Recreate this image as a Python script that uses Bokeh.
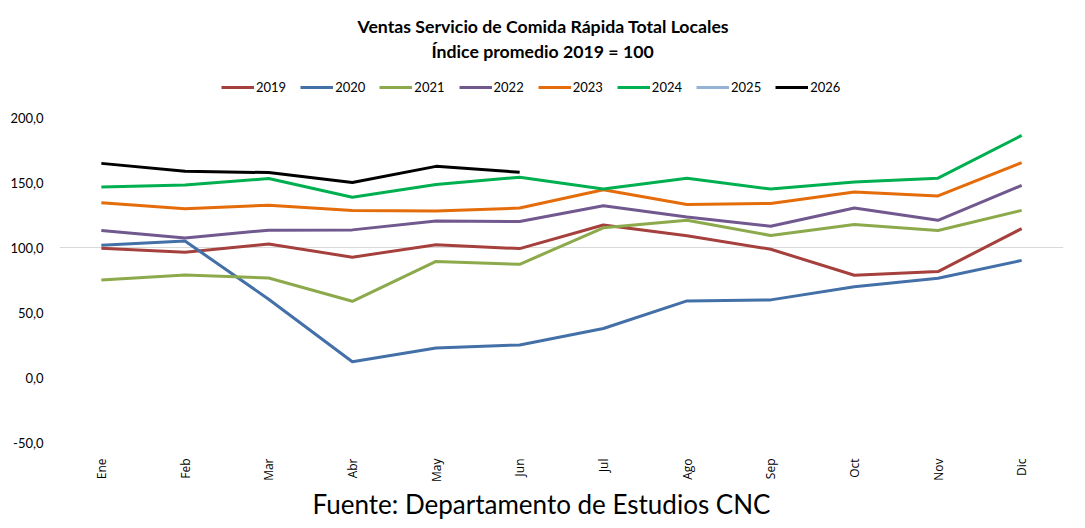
from bokeh.plotting import figure
from bokeh.models import (Legend, LegendItem, Title, FixedTicker,
                          CustomJSTickFormatter, ColumnDataSource)
from bokeh.embed import file_html
from bokeh.resources import INLINE
import numpy as np

months = ["Ene", "Feb", "Mar", "Abr", "May", "Jun",
          "Jul", "Ago", "Sep", "Oct", "Nov", "Dic"]

v2019 = [99.5, 96.5, 102.8, 92.7, 102.3, 99.3, 117.5, 109.2, 98.8, 78.8, 81.6, 114.7]
v2020 = [101.8, 105.1, 60.3, 12.2, 22.8, 25.1, 37.8, 59.0, 59.8, 69.9, 76.5, 90.2]
v2021 = [75.2, 79.0, 76.7, 58.7, 89.4, 87.2, 115.3, 121.1, 109.4, 117.8, 113.2, 128.7]
v2022 = [113.2, 107.4, 113.5, 113.7, 120.6, 120.1, 132.2, 123.6, 116.5, 130.5, 121.1, 147.9]
v2023 = [134.5, 129.9, 132.7, 128.7, 128.2, 130.5, 144.6, 133.2, 134.0, 142.9, 139.8, 165.4]
v2024 = [146.7, 148.2, 153.2, 138.8, 148.7, 154.3, 145.1, 153.5, 145.1, 150.5, 153.5, 186.4]
v2025 = [None] * 12   # serie sin datos
v2026 = [164.9, 158.8, 157.8, 150.2, 162.6, 158.1]

years = ["2019", "2020", "2021", "2022", "2023", "2024", "2025", "2026"]
series = [v2019, v2020, v2021, v2022, v2023, v2024, v2025, v2026]
colors = ["#A5403D", "#4470A8", "#8CAA4B", "#71588F", "#E46C0A",
          "#00B050", "#95B3D7", "#000000"]

y_ticks = [-50, 0, 50, 100, 150, 200]

# frame: arriba 63 px, 200 -> 118 px, -50 -> 447 px
TOP = 63
BOTTOM = 447
Y_MAX = 200 + (118 - TOP) * 250 / (BOTTOM - 118)

p = figure(width=1069, height=520, x_range=months, y_range=(-50, Y_MAX),
           output_backend="svg", toolbar_location=None,
           min_border_left=59, min_border_right=6,
           min_border_top=TOP, min_border_bottom=520 - BOTTOM)
p.outline_line_color = None
p.title.visible = False

items = []
for year, vals, color in zip(years, series, colors):
    y = np.array([np.nan if v is None else v for v in vals], dtype=float)
    src = ColumnDataSource(data={"x": months[:len(y)], "y": y})
    r = p.line("x", "y", source=src, line_width=3, color=color)
    items.append(LegendItem(label=year, renderers=[r]))

legend = Legend(items=items, orientation="horizontal",
                location=(162, (BOTTOM - TOP) - 37),
                glyph_width=33, glyph_height=10, label_standoff=2, spacing=14,
                label_text_font="Lato", label_text_font_size="13px",
                label_text_color="#000000",
                border_line_color=None, background_fill_alpha=0,
                margin=0, padding=0)
p.add_layout(legend, "center")

p.add_layout(Title(text="Índice promedio 2019 = 100", align="left", offset=372,
                   text_font="Lato", text_font_size="17.7px",
                   text_font_style="bold", text_color="#000000", standoff=4), "above")
p.add_layout(Title(text="Ventas Servicio de Comida Rápida Total Locales",
                   align="left", offset=298,
                   text_font="Lato", text_font_size="17.7px",
                   text_font_style="bold", text_color="#000000", standoff=0), "above")

p.add_layout(Title(text="Fuente: Departamento de Estudios CNC", align="left",
                   offset=253, text_font="Lato", text_font_size="26px",
                   text_font_style="normal", text_color="#000000", standoff=2), "below")

p.yaxis.ticker = FixedTicker(ticks=y_ticks)
p.yaxis.formatter = CustomJSTickFormatter(code="return tick.toFixed(1).replace('.', ',');")
p.yaxis.major_label_text_font = "Lato"
p.yaxis.major_label_text_font_size = "13px"
p.yaxis.major_label_text_color = "#000000"
p.yaxis.major_label_standoff = 10

p.xaxis.major_label_orientation = np.pi / 2
p.xaxis.major_label_text_font = "Open Sans"
p.xaxis.major_label_text_font_size = "12px"
p.xaxis.major_label_text_color = "#000000"
p.xaxis.major_label_standoff = 10

for ax in (p.xaxis[0], p.yaxis[0]):
    ax.axis_line_color = None
    ax.major_tick_line_color = None
    ax.minor_tick_line_color = None

p.xgrid.grid_line_color = None
p.ygrid.ticker = FixedTicker(ticks=[100])
p.ygrid.grid_line_color = "#D9D9D9"
p.ygrid.grid_line_width = 1

open("out.html", "w").write(file_html(p, INLINE))
